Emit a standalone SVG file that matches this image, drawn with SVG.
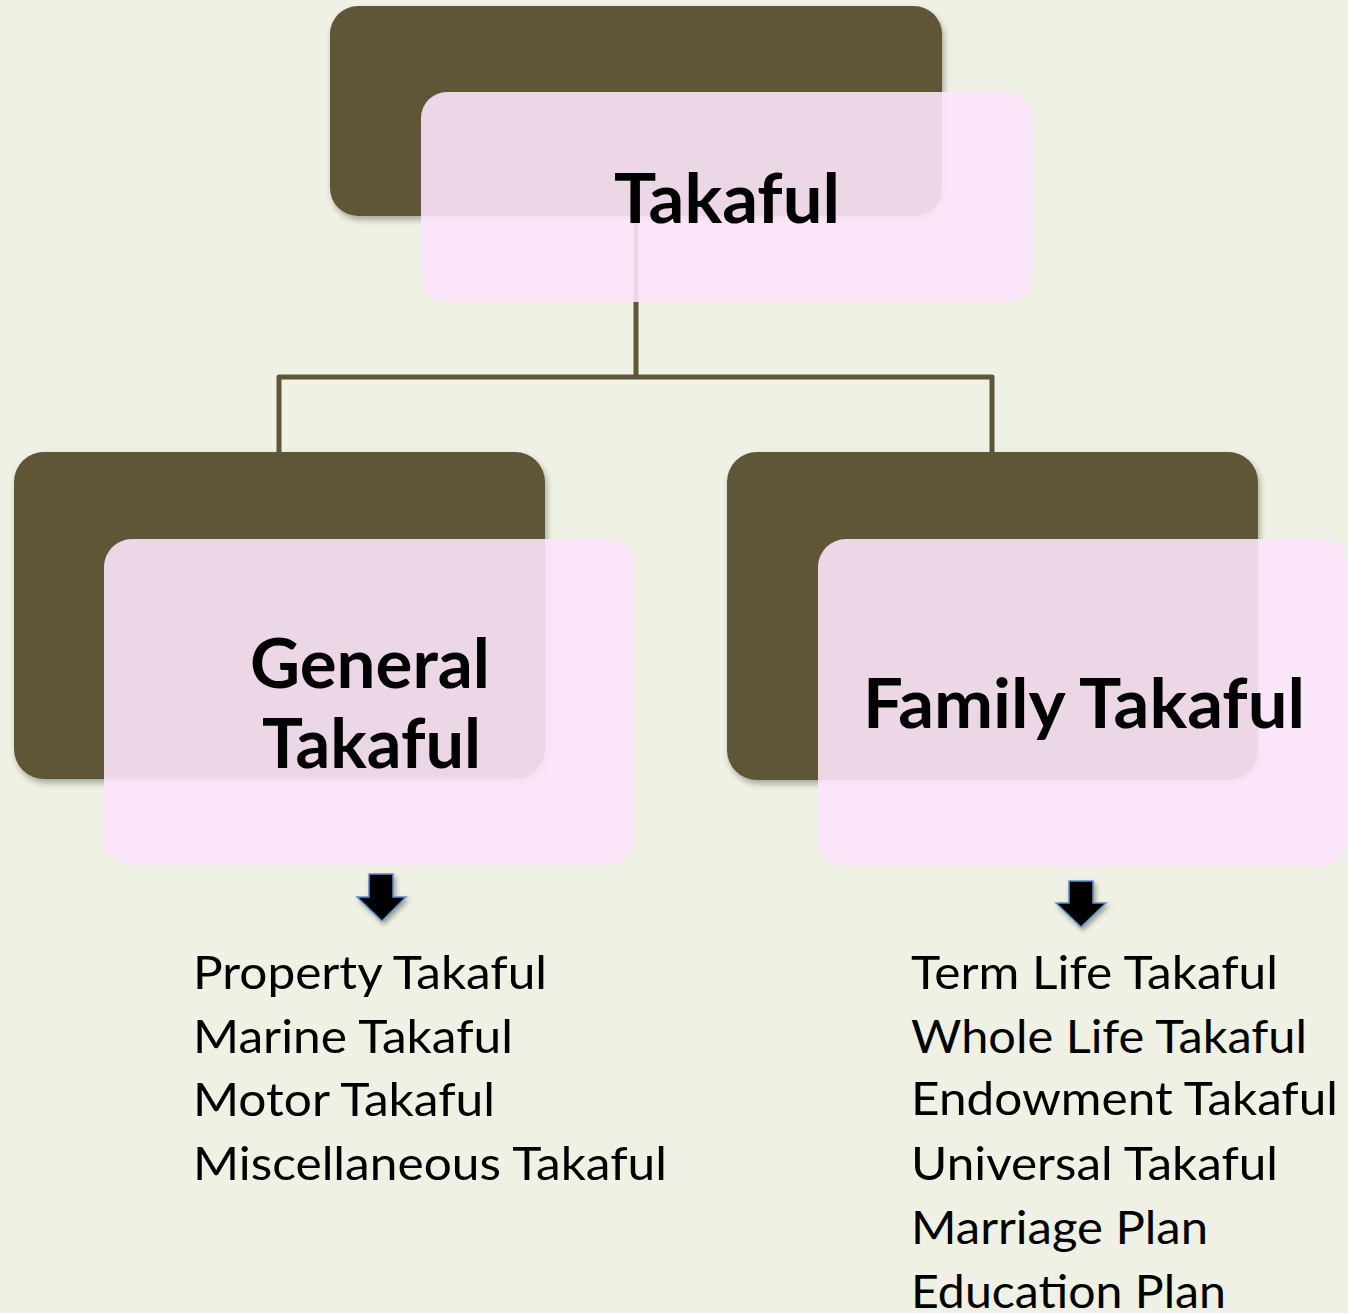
<svg xmlns="http://www.w3.org/2000/svg" width="1348" height="1313" viewBox="0 0 1348 1313">
  <defs>
    <filter id="sh" x="-10%" y="-10%" width="125%" height="130%">
      <feDropShadow dx="2" dy="4" stdDeviation="3" flood-color="#000" flood-opacity="0.3"/>
    </filter>
    <filter id="ash" x="-30%" y="-30%" width="170%" height="170%">
      <feDropShadow dx="2" dy="3" stdDeviation="2.5" flood-color="#000" flood-opacity="0.35"/>
    </filter>
  </defs>
  <style>
    .dark { fill: #5e5639; filter: url(#sh); }
    .pink { fill: #fce5fb; fill-opacity: 0.9; }
    .title { font-family: Lato, "Liberation Sans", sans-serif; font-weight: bold; font-size: 68px; fill: #000; }
    .item { font-family: Lato, "Liberation Sans", sans-serif; font-size: 47px; fill: #000; }
    .conn { fill: none; stroke: #5e5639; stroke-width: 5; stroke-linejoin: round; }
    .arrow { fill: #000; stroke: #5b8fd0; stroke-width: 1.5; filter: url(#ash); }
  </style>
  <rect width="1348" height="1313" fill="#eef1e3"/>

  <g id="connectors">
    <path class="conn" d="M636 216 V377 M279 452 V377 H992 V452"/>
  </g>

  <g id="node-takaful">
    <rect class="dark" x="330" y="6" width="612" height="210" rx="28"/>
    <rect class="pink" x="421" y="92" width="612" height="210" rx="26"/>
    <text class="title" x="614" y="223" textLength="226" lengthAdjust="spacingAndGlyphs">Takaful</text>
  </g>

  <g id="node-general">
    <rect class="dark" x="14" y="452" width="531" height="327" rx="30"/>
    <rect class="pink" x="104" y="539" width="531" height="326" rx="28"/>
    <text class="title" x="250" y="688" textLength="240" lengthAdjust="spacingAndGlyphs">General</text>
    <text class="title" x="262" y="768" textLength="219" lengthAdjust="spacingAndGlyphs">Takaful</text>
  </g>

  <g id="node-family">
    <rect class="dark" x="727" y="452" width="531" height="328" rx="30"/>
    <rect class="pink" x="818" y="539" width="531" height="327" rx="28"/>
    <text class="title" x="863" y="728" textLength="442" lengthAdjust="spacingAndGlyphs">Family Takaful</text>
  </g>

  <g id="arrow-general">
    <polygon class="arrow" points="369,874 393,874 393,897 406,897 382,921 357,897 369,897"/>
  </g>
  <g id="arrow-family">
    <polygon class="arrow" points="1069,881 1093,881 1093,903 1106,903 1081,927 1056,903 1069,903"/>
  </g>

  <g id="list-general">
    <text class="item" x="193" y="989" textLength="354" lengthAdjust="spacingAndGlyphs">Property Takaful</text>
    <text class="item" x="193" y="1053" textLength="320" lengthAdjust="spacingAndGlyphs">Marine Takaful</text>
    <text class="item" x="193" y="1116" textLength="302" lengthAdjust="spacingAndGlyphs">Motor Takaful</text>
    <text class="item" x="193" y="1180" textLength="474" lengthAdjust="spacingAndGlyphs">Miscellaneous Takaful</text>
  </g>

  <g id="list-family">
    <text class="item" x="911" y="989" textLength="367" lengthAdjust="spacingAndGlyphs">Term Life Takaful</text>
    <text class="item" x="911" y="1053" textLength="396" lengthAdjust="spacingAndGlyphs">Whole Life Takaful</text>
    <text class="item" x="911" y="1115" textLength="427" lengthAdjust="spacingAndGlyphs">Endowment Takaful</text>
    <text class="item" x="911" y="1180" textLength="367" lengthAdjust="spacingAndGlyphs">Universal Takaful</text>
    <text class="item" x="911" y="1244" textLength="297" lengthAdjust="spacingAndGlyphs">Marriage Plan</text>
    <text class="item" x="911" y="1308" textLength="315" lengthAdjust="spacingAndGlyphs">Education Plan</text>
  </g>
</svg>
